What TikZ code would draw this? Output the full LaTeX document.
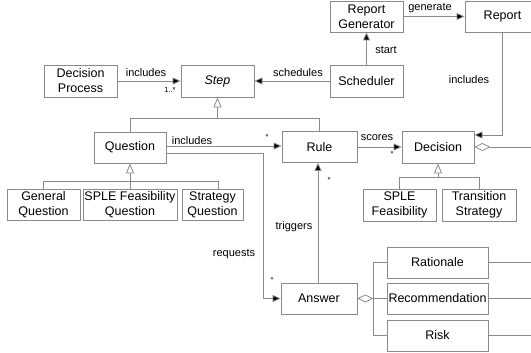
\documentclass[tikz,border=0pt]{standalone}
\usepackage{fontspec}
\setmainfont{Liberation Sans}
\usetikzlibrary{arrows.meta}
\definecolor{ln}{HTML}{8A8A8A}
\tikzset{
  box/.style={draw=ln, line width=0.8pt, inner sep=0pt, align=center, font=\fontsize{12.5}{15}\selectfont, text=black},
  lbl/.style={font=\fontsize{11}{13}\selectfont, inner sep=0pt, text=black},
  mult/.style={font=\fontsize{7.5}{9}\selectfont, inner sep=0pt, text=black},
  con/.style={draw=ln, line width=0.8pt},
  arr/.style={con, -{Triangle[length=8pt,width=7pt,fill=black]}},
  gen/.style={con, {Triangle[open,length=10pt,width=8pt,fill=white]}-},
  agg/.style={con, {Diamond[open,length=16pt,width=8pt,fill=white]}-},
}
\begin{document}
\begin{tikzpicture}[x=1pt,y=-1pt]
\useasboundingbox (0,0) rectangle (531,353);
\begin{scope}
\clip (0,0) rectangle (531,353);
% nodes
\node[box, minimum width=73pt, minimum height=32pt] (dp) at (80.5,81) {Decision\\Process};
\node[box, minimum width=73pt, minimum height=32pt] (step) at (217.5,81) {\itshape Step};
\node[box, minimum width=73pt, minimum height=31pt] (rg) at (366.5,16.5) {Report\\Generator};
\node[box, minimum width=75pt, minimum height=31pt] (rep) at (502.5,16.5) {Report};
\node[box, minimum width=73pt, minimum height=32pt] (sch) at (366.5,81) {Scheduler};
\node[box, minimum width=72pt, minimum height=31pt] (q) at (130,147.5) {Question};
\node[box, minimum width=75pt, minimum height=31pt] (rule) at (319.5,147) {Rule};
\node[box, minimum width=72pt, minimum height=32pt] (dec) at (438,147) {Decision};
\node[box, minimum width=73pt, minimum height=31pt] (gq) at (43.5,204.5) {General\\Question};
\node[box, minimum width=94pt, minimum height=31pt] (sfq) at (130,204.5) {SPLE Feasibility\\Question};
\node[box, minimum width=61pt, minimum height=31pt] (sq) at (212.5,204.5) {Strategy\\Question};
\node[box, minimum width=73pt, minimum height=32pt] (sf) at (399.5,205) {SPLE\\Feasibility};
\node[box, minimum width=74pt, minimum height=32pt] (ts) at (479,205) {Transition\\Strategy};
\node[box, minimum width=76pt, minimum height=31pt] (ans) at (319,298.5) {Answer};
\node[box, minimum width=101pt, minimum height=31pt] (rat) at (437.5,262.5) {Rationale};
\node[box, minimum width=101pt, minimum height=31pt] (rec) at (437.5,298.5) {Recommendation};
\node[box, minimum width=101pt, minimum height=31pt] (risk) at (437.5,335.5) {Risk};
% free ends
\coordinate (e1) at (540,147);
\coordinate (e2) at (540,262.5);
\coordinate (e3) at (540,298.5);
\coordinate (e4) at (540,335.5);
% connectors
\draw[arr] (dp) -- (step);
\draw[arr] (sch) -- (step);
\draw[arr] (sch) -- (rg);
\draw[arr] (rg) -- (rep);
\draw[arr] (rep.south) |- ([yshift=12pt]dec.east);
\draw[gen] (step.south) -- ++(0,21) coordinate (sb);
\draw[con] (q.north) |- (sb) -| (rule.north);
\draw[arr] ([yshift=1.5pt]q.east) -- ([yshift=1pt]rule.west);
\draw[arr] ([yshift=-5.5pt]q.east) -- ++(97,0) |- (ans.west);
\draw[arr] ([xshift=-1pt]ans.north) -- ([xshift=-1.5pt]rule.south);
\draw[arr] (rule) -- (dec);
\draw[agg] (dec.east) -- (e1);
\draw[gen] (q.south) -- ++(0,18) coordinate (qb);
\draw[con] (gq.north) |- (qb) -| ([xshift=5.5pt]sq.north);
\draw[con] (sfq.north) -- (qb);
\draw[gen] (dec.south) -- ++(0,14) coordinate (db);
\draw[con] (sf.north) |- (db) -| (ts.north);
\draw[agg] (ans.east) -- ++(16,0) coordinate (ab);
\draw[con] (ab) |- (rat.west);
\draw[con] (ab) -- (rec.west);
\draw[con] (ab) |- (risk.west);
\draw[con] (rat.east) -- (e2);
\draw[con] (rec.east) -- (e3);
\draw[con] (risk.east) -- (e4);
% labels
\node[lbl] (l1) at (146,73) {includes};
\node[mult] (m1) at (170,90) {1..*};
\node[lbl] (l2) at (298,73) {schedules};
\node[lbl] (l3) at (386,50) {start};
\node[lbl] (l4) at (430,8) {generate};
\node[lbl] (l5) at (469,80) {includes};
\node[lbl] (l6) at (192,141) {includes};
\node[mult] (m2) at (267,137) {*};
\node[lbl] (l7) at (377,138) {scores};
\node[mult] (m3) at (392,154) {*};
\node[lbl] (l8) at (294,227) {triggers};
\node[mult] (m4) at (329,180) {*};
\node[lbl] (l9) at (234,254) {requests};
\node[mult] (m5) at (272,280) {*};
\end{scope}
\end{tikzpicture}
\end{document}
